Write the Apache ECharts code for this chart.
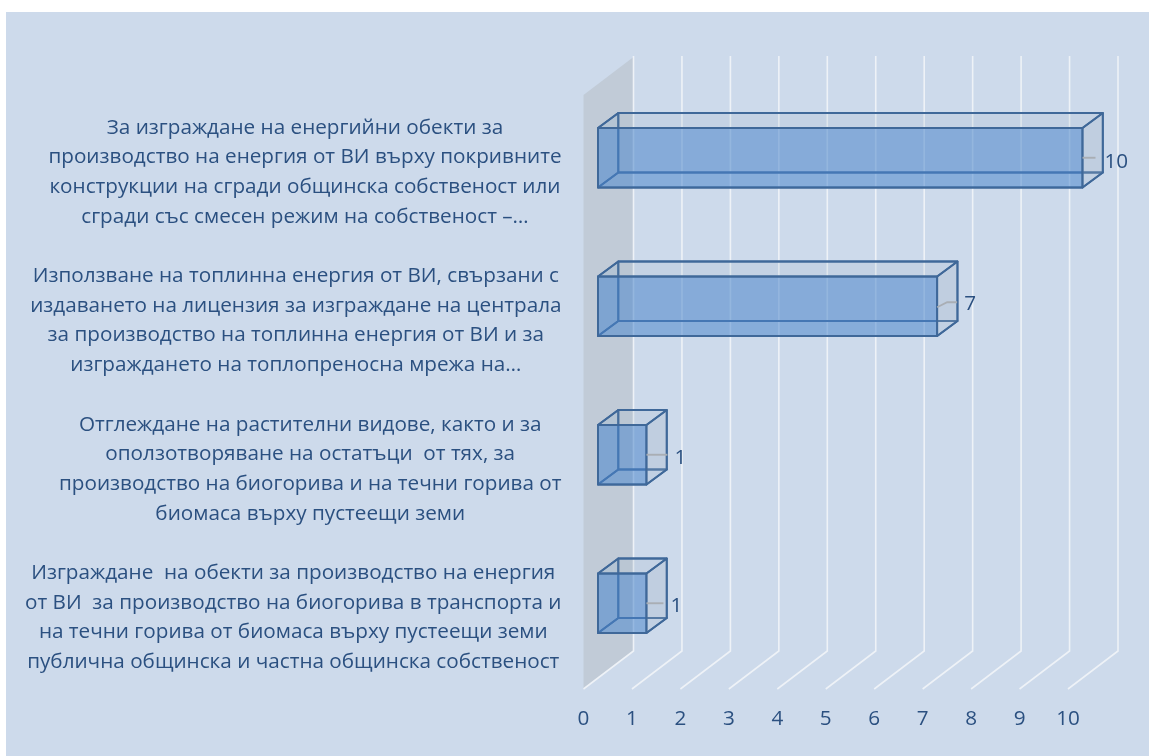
<!DOCTYPE html>
<html><head><meta charset="utf-8">
<style>html,body{margin:0;padding:0;background:#fff}#c{position:absolute;left:0;top:0;width:1149px;height:756px}</style>
<script src="https://cdn.jsdelivr.net/npm/echarts@6/dist/echarts.min.js"></script>
</head><body><div id="c"></div>
<script>
const categories = [
 "Изграждане  на обекти за производство на енергия\nот ВИ  за производство на биогорива в транспорта и\nна течни горива от биомаса върху пустеещи земи\nпублична общинска и частна общинска собственост",
 "Отглеждане на растителни видове, както и за\nоползотворяване на остатъци  от тях, за\nпроизводство на биогорива и на течни горива от\nбиомаса върху пустеещи земи",
 "Използване на топлинна енергия от ВИ, свързани с\nиздаването на лицензия за изграждане на централа\nза производство на топлинна енергия от ВИ и за\nизграждането на топлопреносна мрежа на…",
 "За изграждане на енергийни обекти за\nпроизводство на енергия от ВИ върху покривните\nконструкции на сгради общинска собственост или\nсгради със смесен режим на собственост –…"
];
const values = [1, 1, 7, 10];
const ticks = [0,1,2,3,4,5,6,7,8,9,10];
const TEXT = '#2b5080';
const FONT = 'Open Sans';
const FS = 20.7;
const DX = 50, DY = 38;

function gridItem(params, api){
  const v = api.value(0);
  const bottom = params.coordSys.y + params.coordSys.height;
  const top = params.coordSys.y;
  const x = api.coord([v, 0])[0];
  const style = {fill:'none', stroke:'#eef2f7', lineWidth:1.6};
  const children = [];
  if (v === 0) children.push({type:'polygon', shape:{points:[[x,top],[x+DX,top-DY],[x+DX,bottom-DY],[x,bottom]]}, style:{fill:'#c1cbd7'}});
  children.push({type:'polyline', shape:{points:[[x+DX,top-DY-1],[x+DX,bottom-DY],[x,bottom]]}, style});
  return {type:'group', children};
}
function barItem(params, api){
  const v = api.value(0), c = api.value(1);
  const cy = api.coord([0, c])[1] - 11.5;
  const x0 = api.coord([0, c])[0] + 14.5, x1 = api.coord([v, c])[0] + 14.5;
  const h = 29.7, dx = 20.3, dy = 15;
  const y0 = cy - h, y1 = cy + h;
  const face = (pts, fill) => ({type:'polygon', shape:{points:pts}, style:{fill, stroke:'#3f6899', lineWidth:1.9, lineJoin:'round'}});
  return {type:'group', children:[
    face([[x0+dx,y0-dy],[x1+dx,y0-dy],[x1+dx,y1-dy],[x0+dx,y1-dy]], 'rgba(150,165,190,0.10)'),
    face([[x0,y0],[x0+dx,y0-dy],[x0+dx,y1-dy],[x0,y1]], 'rgba(70,125,195,0.08)'),
    face([[x0,y1],[x0+dx,y1-dy],[x1+dx,y1-dy],[x1,y1]], 'rgba(70,125,195,0.03)'),
    face([[x0,y0],[x1,y0],[x1,y1],[x0,y1]], 'rgba(75,135,205,0.52)'),
    face([[x1,y0],[x1+dx,y0-dy],[x1+dx,y1-dy],[x1,y1]], 'rgba(170,185,205,0.22)'),
    face([[x0,y0],[x0+dx,y0-dy],[x1+dx,y0-dy],[x1,y0]], 'rgba(170,185,205,0.08)')
  ]};
}
function labelItem(params, api){
  const i = params.dataIndex, v = api.value(0), c = api.value(1);
  const y = api.coord([0, c])[1] - 11.5;
  const x = api.coord([v, c])[0] + 14.5;
  const ex = x + [17,21,20,13][i];
  const pts = i === 2 ? [[x,y+1],[x+10,y-4],[ex,y-4]] : [[x,y],[ex,y]];
  return {type:'group', children:[
    {type:'polyline', shape:{points:pts}, style:{fill:'none', stroke:'#a9aeb4', lineWidth:1.9}},
    {type:'text', style:{text:String(v), x:x+[24,28,27,22][i], y:y+[3,3,-2,4][i], fill:TEXT, font:FS+'px "'+FONT+'"', textAlign:'left', textVerticalAlign:'middle'}}
  ]};
}
const chart = echarts.init(document.getElementById('c'), null, {renderer:'canvas'});
chart.setOption({
  animation:false,
  backgroundColor:'#ffffff',
  graphic:[{type:'rect', z:-10, shape:{x:6,y:12,width:1143,height:744}, style:{fill:'#cddaeb'}}],
  grid:{left:583.5, top:95, width:484.5, height:594, containLabel:false},
  xAxis:{type:'value', min:0, max:10, interval:1, splitLine:{show:false}, axisLine:{show:false}, axisTick:{show:false},
    axisLabel:{color:TEXT, fontFamily:FONT, fontSize:FS, margin:20, formatter:v=>String(v)}},
  yAxis:{type:'category', data:categories, axisLine:{show:false}, axisTick:{show:false}, splitLine:{show:false},
    axisLabel:{align:'right', margin:22, interval:0, padding:[6,0,0,0],
      formatter:s=>s.split('\n').map(l=>'{a|'+l+'}').join('\n'),
      rich:{a:{color:TEXT, fontFamily:FONT, fontSize:FS, lineHeight:29.6, align:'center'}}}},
  series:[
    {type:'custom', coordinateSystem:'cartesian2d', renderItem:gridItem, data:ticks.map(t=>[t,0]), encode:{x:0,y:1}, silent:true, z:1},
    {type:'custom', coordinateSystem:'cartesian2d', renderItem:barItem, data:values.map((v,i)=>[v,i]), encode:{x:0,y:1}, silent:true, z:2},
    {type:'custom', coordinateSystem:'cartesian2d', renderItem:labelItem, data:values.map((v,i)=>[v,i]), encode:{x:0,y:1}, silent:true, z:3}
  ]
});
</script></body></html>
